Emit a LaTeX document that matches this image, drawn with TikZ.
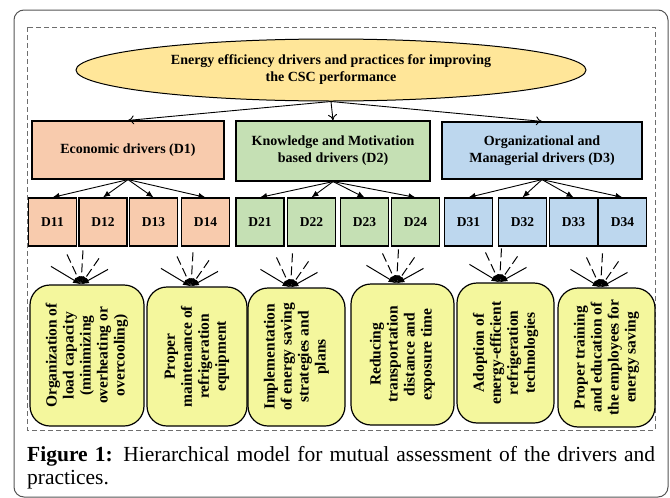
\documentclass[tikz,border=0pt]{standalone}
\usepackage{fontspec}
\setmainfont{Liberation Serif}
\usetikzlibrary{shapes.geometric,arrows.meta}
\definecolor{ellfill}{HTML}{FFE699}
\definecolor{ecofill}{HTML}{F8CBAD}
\definecolor{knofill}{HTML}{C5E0B4}
\definecolor{orgfill}{HTML}{BDD7EE}
\definecolor{pracfill}{HTML}{F4F79D}
\definecolor{framegray}{HTML}{555555}
\begin{document}
\begin{tikzpicture}[x=1pt,y=-1pt,
  mainbox/.style={draw=black, line width=1.2pt, inner sep=2pt, align=center,
    font=\fontsize{14}{17}\selectfont\bfseries},
  subbox/.style={draw=black, line width=1.2pt, minimum width=48pt, minimum height=48pt,
    inner sep=0pt, font=\fontsize{13.5}{16}\selectfont\bfseries},
  pracbox/.style={draw=black, line width=1.2pt, rounded corners=20pt, fill=pracfill},
  practext/.style={rotate=90, align=center, inner sep=0pt,
    font=\fontsize{15.5}{17}\selectfont\bfseries},
  toparrow/.style={-{To[length=6pt,width=9pt]}, line width=0.9pt},
  subarrow/.style={-{Latex[length=7pt,width=6pt]}, line width=0.9pt},
  burst/.style={-{Latex[length=8pt,width=6pt]}, line width=1pt},
  burstdash/.style={burst, dash pattern=on 9pt off 4pt}
]
\useasboundingbox (0,0) rectangle (670,498);
% frames
\draw[framegray, line width=1pt, rounded corners=10pt] (14,10) rectangle (668,497);
\draw[framegray!85, line width=0.9pt, dash pattern=on 5pt off 3pt] (27,27) rectangle (655,430);

% top ellipse
\node[ellipse, draw=black, line width=1pt, fill=ellfill, minimum width=510pt, minimum height=62pt,
  inner sep=0pt, align=center, font=\fontsize{14}{17}\selectfont\bfseries]
  (top) at (331,70) {Energy efficiency drivers and practices for improving\\the CSC performance};

% drivers
\node[mainbox, fill=ecofill, minimum width=192pt, minimum height=58pt] (D1) at (128,150) {Economic drivers (D1)};
\node[mainbox, fill=knofill, minimum width=194pt, minimum height=60pt] (D2) at (333,151) {Knowledge and Motivation\\based drivers (D2)};
\node[mainbox, fill=orgfill, minimum width=200pt, minimum height=57pt] (D3) at (542,150.5) {Organizational and\\Managerial drivers (D3)};

\draw[toparrow] (top.south) -- (D1.north);
\draw[toparrow] (top.south) -- (D2.north);
\draw[toparrow] (top.south) -- (D3.north);

% sub drivers
\node[subbox, fill=ecofill] (D11) at (52.5,222) {D11};
\node[subbox, fill=ecofill] (D12) at (103,222) {D12};
\node[subbox, fill=ecofill] (D13) at (153.5,222) {D13};
\node[subbox, fill=ecofill] (D14) at (205.5,222) {D14};
\node[subbox, fill=knofill] (D21) at (260,222) {D21};
\node[subbox, fill=knofill] (D22) at (311.5,222) {D22};
\node[subbox, fill=knofill] (D23) at (364.5,222) {D23};
\node[subbox, fill=knofill] (D24) at (415.5,222) {D24};
\node[subbox, fill=orgfill] (D31) at (468.5,222) {D31};
\node[subbox, fill=orgfill] (D32) at (522.5,222) {D32};
\node[subbox, fill=orgfill] (D33) at (573.5,222) {D33};
\node[subbox, fill=orgfill] (D34) at (622.5,222) {D34};

\foreach \g in {1,2,3}{
  \foreach \s in {1,2,3,4}{
    \draw[subarrow] (D\g.south) -- (D\g\s.north);
  }
}

% practices
\node[pracbox, minimum width=114pt, minimum height=141pt] (P1) at (87,355.5) {};
\node[pracbox, minimum width=100pt, minimum height=139pt] (P2) at (197,356.5) {};
\node[pracbox, minimum width=97pt, minimum height=138pt] (P3) at (296.5,357) {};
\node[pracbox, minimum width=103pt, minimum height=141pt] (P4) at (402.5,354.5) {};
\node[pracbox, minimum width=97pt, minimum height=140pt] (P5) at (505.5,353) {};
\node[pracbox, minimum width=97pt, minimum height=139pt] (P6) at (606.5,357.5) {};

\node[practext] (T1) at (P1.center) {Organization of\\load capacity\\(minimizing\\overheating or\\overcooling)};
\node[practext] (T2) at (P2.center) {Proper\\maintenance of\\refrigeration\\equipment};
\node[practext] (T3) at (P3.center) {Implementation\\of energy saving\\strategies and\\plans};
\node[practext] (T4) at (P4.center) {Reducing\\transportation\\distance and\\exposure time};
\node[practext] (T5) at (P5.center) {Adoption of\\energy-efficient\\refrigeration\\technologies};
\node[practext] (T6) at (P6.center) {Proper training\\and education of\\the employees for\\energy saving};

% starbursts
\foreach \b in {1,...,6}{
  \coordinate (B\b t) at ([xshift=-6pt]P\b.north);
  \coordinate (B\b a) at ([shift={(-30,-18)}]B\b t);
  \coordinate (B\b b) at ([shift={(-14,-30)}]B\b t);
  \coordinate (B\b c) at ([shift={(2,-34)}]B\b t);
  \coordinate (B\b d) at ([shift={(18,-26)}]B\b t);
  \coordinate (B\b e) at ([shift={(27,-15)}]B\b t);
  \draw[burst] (B\b a) -- (B\b t);
  \draw[burstdash] (B\b b) -- (B\b t);
  \draw[burstdash] (B\b c) -- (B\b t);
  \draw[burstdash] (B\b d) -- (B\b t);
  \draw[burst] (B\b e) -- (B\b t);
}

% caption
\node[anchor=north west, inner sep=0pt, text width=628pt, align=justify,
  font=\fontsize{21.5}{23}\selectfont] (cap) at (27,446)
  {\hyphenpenalty=10000\relax\exhyphenpenalty=10000\relax
   \textbf{Figure 1:} Hierarchical model for mutual assessment of the drivers and practices.};
\end{tikzpicture}
\end{document}
